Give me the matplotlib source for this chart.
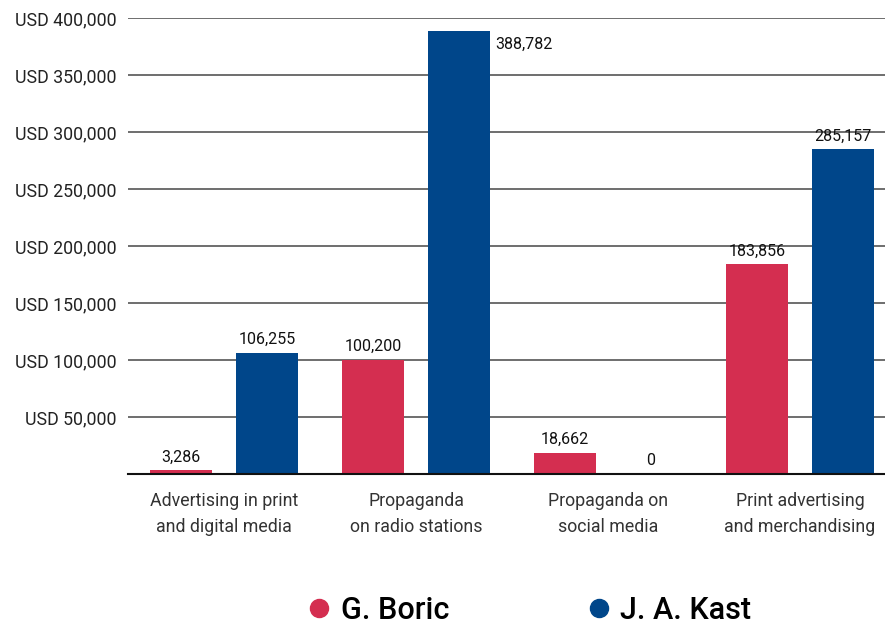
import matplotlib.pyplot as plt
import numpy as np
from matplotlib.lines import Line2D

plt.rcParams['font.family'] = ['Roboto', 'DejaVu Sans']

categories = ["Advertising in print\nand digital media",
              "Propaganda\non radio stations",
              "Propaganda on\nsocial media",
              "Print advertising\nand merchandising"]
boric = [3286, 100200, 18662, 183856]
kast = [106255, 388782, 0, 285157]
series_names = ["G. Boric", "J. A. Kast"]
colors = ["#D42E50", "#00468A"]
yticks = [50000, 100000, 150000, 200000, 250000, 300000, 350000, 400000]

fig = plt.figure(figsize=(8.85, 6.27), dpi=100)
ax = fig.add_axes([128/885, 153/627, 757/885, 456/627])

x = np.arange(len(categories))
w = 0.318
off = 0.224
b1 = ax.bar(x - off, boric, w, color=colors[0], zorder=3)
b2 = ax.bar(x + off, kast, w, color=colors[1], zorder=3)

# value labels
for bars, vals in [(b1, boric), (b2, kast)]:
    for r, v in zip(bars, vals):
        cx = r.get_x() + r.get_width() / 2
        if v > 370000:
            ax.annotate(f"{v:,}", (r.get_x() + r.get_width(), v), xytext=(4, -10),
                        textcoords="offset points", ha="left", va="center",
                        fontsize=11.5, color="#111111")
        else:
            ax.annotate(f"{v:,}", (cx, v), xytext=(0, 4), textcoords="offset points",
                        ha="center", va="bottom", fontsize=11.5, color="#111111")

ax.set_ylim(0, 400000)
ax.set_xlim(-0.5, -0.5 + 757/192)
ax.set_yticks(yticks)
ax.set_yticklabels([f"USD {v:,}" for v in yticks], fontsize=12.8, color="#222222")
ax.set_xticks(x)
ax.set_xticklabels(categories, fontsize=12.8, color="#333333", linespacing=1.55)
ax.tick_params(axis="both", length=0)
ax.tick_params(axis="x", pad=13)
ax.tick_params(axis="y", pad=8.5)
ax.grid(axis="y", color="#555555", linewidth=1.2, zorder=0)
for s in ["top", "right", "left"]:
    ax.spines[s].set_visible(False)
ax.spines["bottom"].set_color("#111111")
ax.spines["bottom"].set_linewidth(1.5)
ax.spines["bottom"].set_zorder(4)

handles = [Line2D([], [], marker="o", linestyle="", markersize=13, color=c) for c in colors]
fig.legend(handles, series_names, loc="center", bbox_to_anchor=(0.598, 0.027),
           ncol=2, frameon=False, handlelength=0.8, handletextpad=0.3, columnspacing=4.5,
           borderpad=0.2, prop={"size": 22, "weight": "medium"})

fig.savefig("out.png", dpi=100)
